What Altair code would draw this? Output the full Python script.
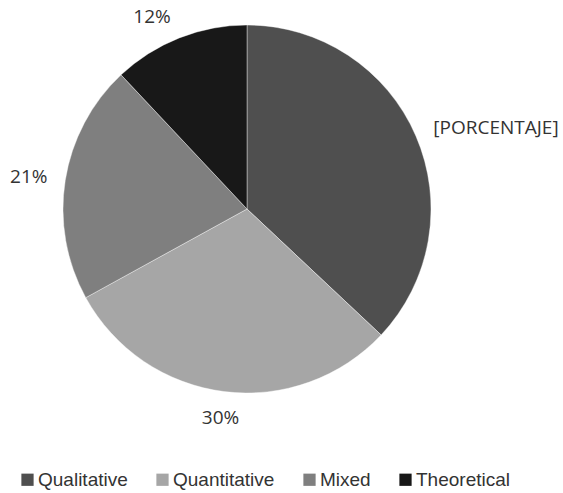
import altair as alt
import pandas as pd

# Research approaches and their share of the reviewed studies (%)
categories = ["Qualitative", "Quantitative", "Mixed", "Theoretical"]
shares = [37, 30, 21, 12]
labels = ["[PORCENTAJE]", "30%", "21%", "12%"]
colors = ["#4f4f4f", "#a6a6a6", "#7f7f7f", "#181818"]

df = pd.DataFrame({
    "category": categories,
    "share": shares,
    "label": labels,
    "idx": list(range(len(categories))),
})

base = alt.Chart(df)

pie = base.mark_arc(outerRadius=184, stroke="#ffffff", strokeWidth=0.4).encode(
    theta=alt.Theta("share:Q", stack=True, scale=alt.Scale(domain=[0, 100])),
    order=alt.Order("idx:Q"),
    color=alt.Color(
        "category:N",
        scale=alt.Scale(domain=categories, range=colors),
        sort=categories,
        legend=alt.Legend(
            title=None,
            orient="none",
            direction="horizontal",
            legendX=18,
            legendY=470,
            padding=0,
            symbolType="square",
            symbolSize=150,
            symbolStrokeWidth=0,
            symbolOpacity=1,
            labelFont="Liberation Sans",
            labelFontSize=19,
            labelColor="#333333",
            labelOffset=1,
            columnPadding=25,
        ),
    ),
)

# Label angle = middle of each slice
text_base = base.transform_window(
    cum="sum(share)", sort=[alt.SortField("idx")], frame=[None, 0]
).transform_calculate(mid="datum.cum - datum.share / 2")


def label_layer(names, align, radius):
    return text_base.transform_filter(
        alt.FieldOneOfPredicate(field="category", oneOf=names)
    ).mark_text(
        align=align,
        baseline="middle",
        radius=radius,
        font="Open Sans",
        fontSize=19,
        color="#333333",
    ).encode(
        theta=alt.Theta("mid:Q", stack=False, scale=alt.Scale(domain=[0, 100])),
        text="label:N",
    )


chart = alt.layer(
    pie,
    label_layer(["Qualitative"], "left", 203),
    label_layer(["Quantitative"], "center", 211),
    label_layer(["Mixed"], "right", 202),
    label_layer(["Theoretical"], "right", 207),
).properties(
    width=494,
    height=418,
    autosize=alt.AutoSizeParams(type="none"),
    padding={"left": 0, "top": 0, "right": 69, "bottom": 75},
    background="#ffffff",
).configure_view(stroke="transparent")

chart.save("out.html", embed_options={"renderer": "svg", "actions": False})
